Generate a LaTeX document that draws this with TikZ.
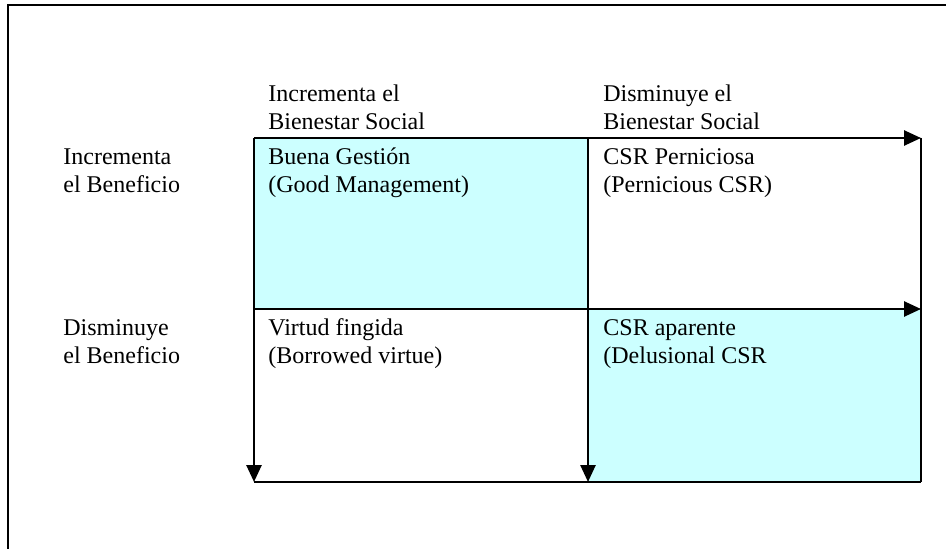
\documentclass[tikz,border=0pt]{standalone}
\usepackage{fontspec}
\setmainfont{Liberation Serif}
\usetikzlibrary{arrows.meta}
\definecolor{cellcyan}{RGB}{204,255,255}

\begin{document}
\begin{tikzpicture}[x=0.5pt,y=-0.5pt,
  grid/.style={line width=1.3pt},
  axis/.style={grid,-{Triangle[length=8.5pt,width=7.5pt]}},
  lbl/.style={anchor=base west,inner sep=0pt,align=left,font=\fontsize{12}{14}\selectfont}]
\useasboundingbox (0,0) rectangle (946,549);
\coordinate (f0) at (8,549); \coordinate (f1) at (8,5); \coordinate (f2) at (946,5);
\coordinate (a1) at (254,138); \coordinate (b1) at (588,138); \coordinate (c1) at (921,138);
\coordinate (a2) at (254,309); \coordinate (b2) at (588,309); \coordinate (c2) at (921,309);
\coordinate (a3) at (254,482); \coordinate (b3) at (588,482); \coordinate (c3) at (921,482);

\fill[cellcyan] (a1) rectangle (b2); \fill[cellcyan] (b2) rectangle (c3);
\draw[line width=1pt] (f0) -- (f1) -- (f2);

\draw[axis] (a1) -- (c1); \draw[axis] (a2) -- (c2);
\draw[axis] (a1) -- (a3); \draw[axis] (b1) -- (b3);
\draw[grid] (c1) -- (c3); \draw[grid] (a3) -- (c3);

\node[lbl] (colinc) at (268,130) {Incrementa el\\Bienestar Social};
\node[lbl] (coldis) at (603,130) {Disminuye el\\Bienestar Social};
\node[lbl] (rowinc) at (63,193) {Incrementa\\el Beneficio};
\node[lbl] (rowdis) at (63,364) {Disminuye\\el Beneficio};

\node[lbl] (good) at (268,193) {Buena Gestión\\(Good Management)};
\node[lbl] (pern) at (603,193) {CSR Perniciosa\\(Pernicious CSR)};
\node[lbl] (borr) at (268,364) {Virtud fingida\\(Borrowed virtue)};
\node[lbl] (delu) at (603,364) {CSR aparente\\(Delusional CSR};
\end{tikzpicture}
\end{document}
